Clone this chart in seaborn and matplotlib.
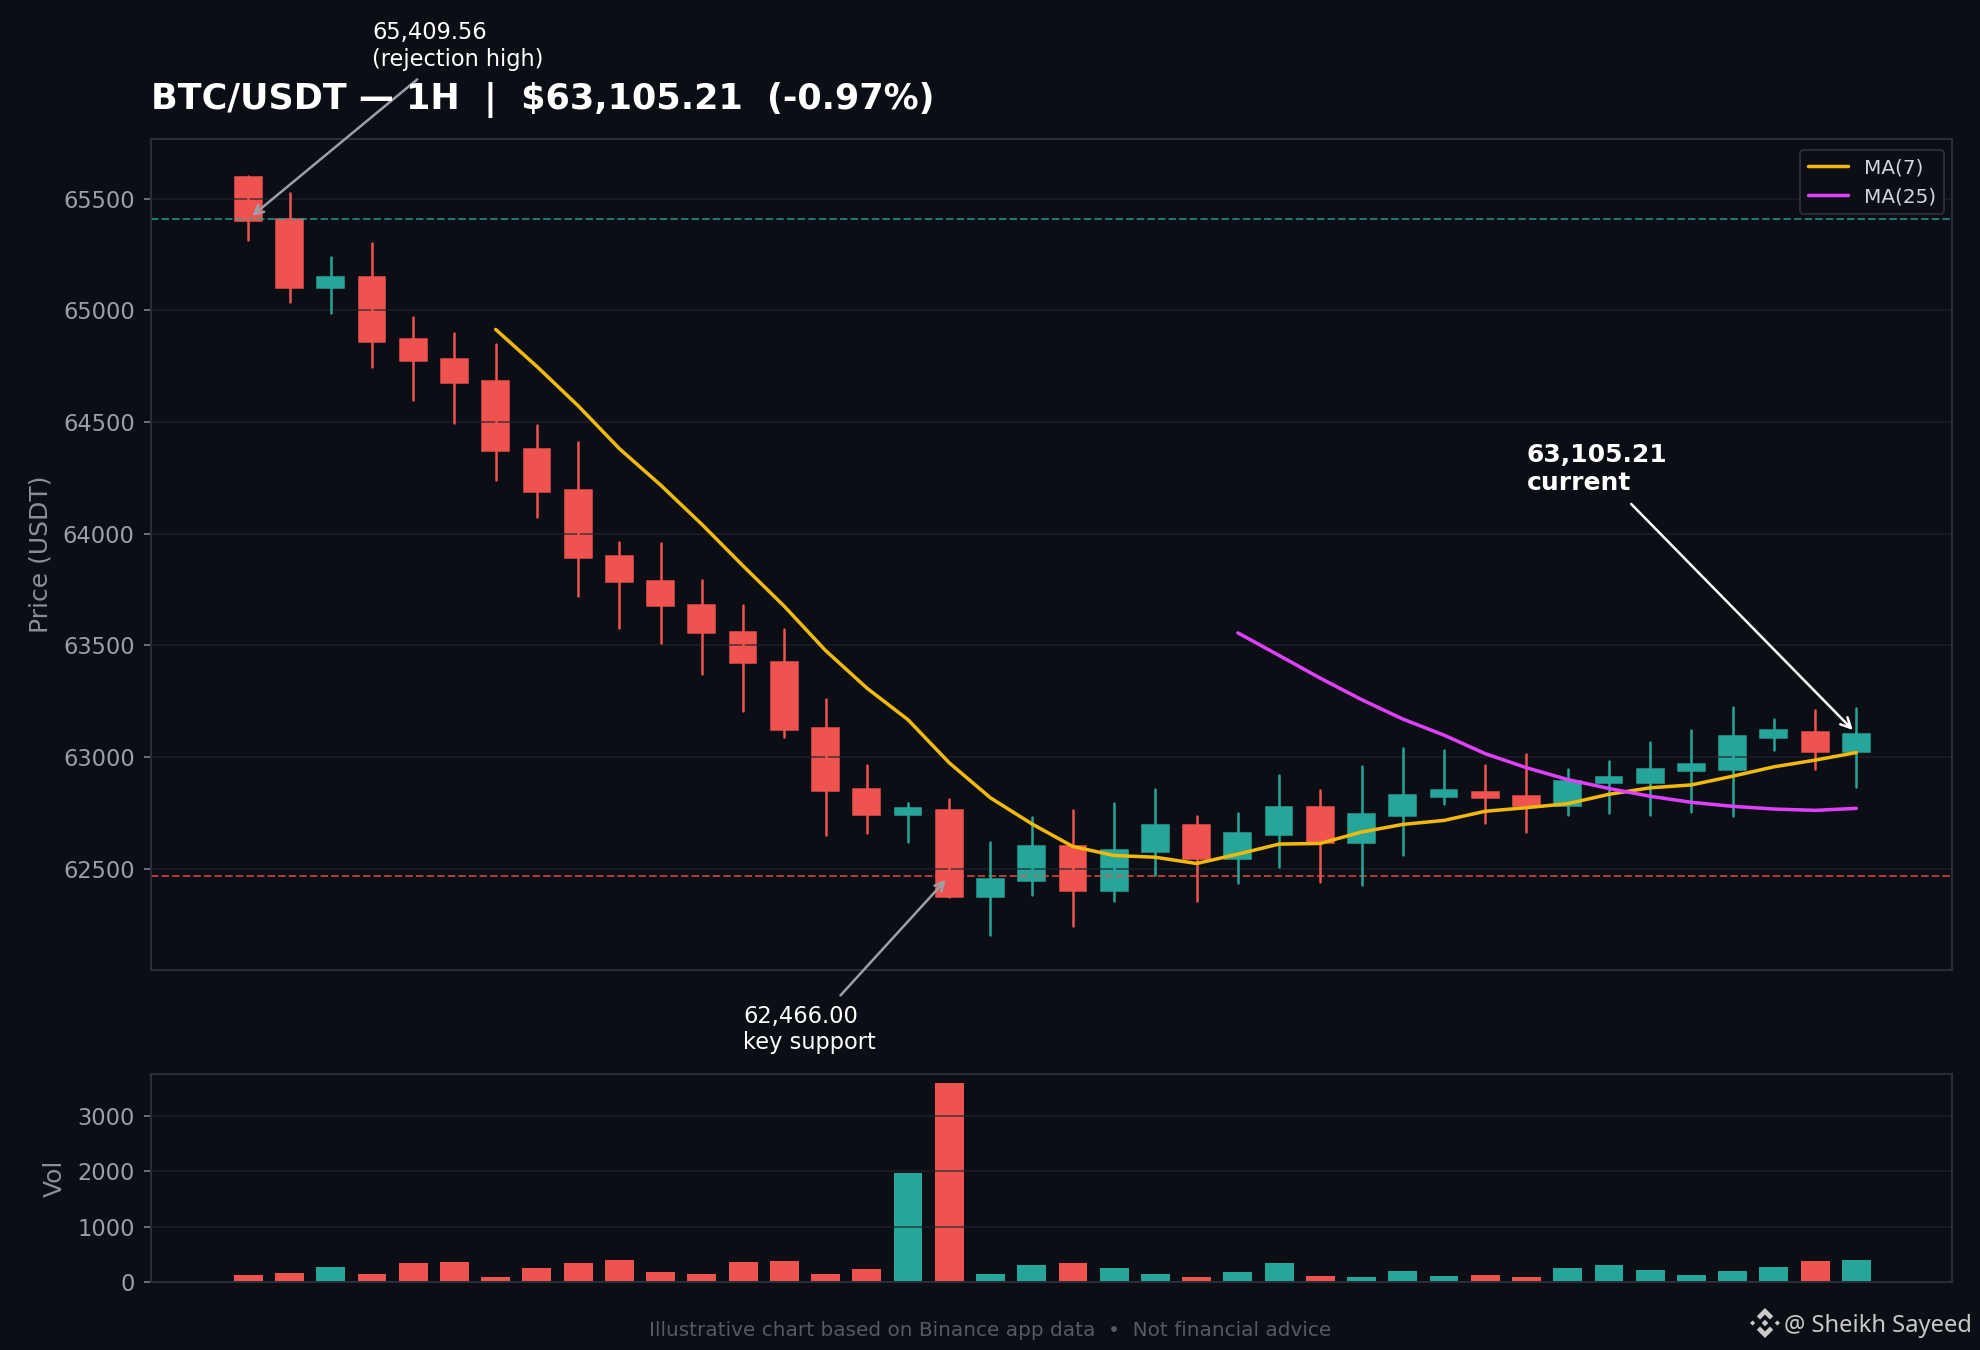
import matplotlib
matplotlib.use("Agg")
import matplotlib.pyplot as plt
from matplotlib.patches import Polygon
import numpy as np
import seaborn as sns

BG = "#0b0e14"
UP = "#26a69a"
DOWN = "#ef5350"
GRID = "#20232a"
SPINE = "#2a2e39"
TXT = "#9aa0a6"

opens = [65600, 65409.56, 65100, 65148, 64870, 64784, 64686, 64379, 64196, 63900,
         63788, 63680, 63562, 63427, 63128, 62857, 62740, 62763, 62371, 62443,
         62601, 62402, 62574, 62695, 62542, 62650, 62776, 62614, 62736, 62821,
         62844, 62826, 62781, 62883, 62883, 62938, 62943, 63087, 63110, 63024]
closes = [65400, 65099, 65148, 64861, 64775, 64677, 64371, 64187, 63890, 63782,
          63675, 63557, 63421, 63121, 62848, 62740, 62772, 62371, 62452, 62601,
          62402, 62583, 62695, 62542, 62659, 62776, 62614, 62745, 62830, 62853,
          62817, 62781, 62893, 62911, 62947, 62970, 63095, 63119, 63024, 63105.21]
highs = [65602, 65525, 65241, 65301, 64972, 64901, 64852, 64488, 64410, 63963,
         63958, 63794, 63680, 63573, 63258, 62965, 62794, 62812, 62619, 62731,
         62763, 62794, 62857, 62736, 62749, 62920, 62853, 62961, 63042, 63033,
         62965, 63015, 62947, 62983, 63069, 63123, 63222, 63168, 63209, 63218]
lows = [65314, 65039, 64990, 64747, 64597, 64495, 64241, 64076, 63720, 63579,
        63511, 63370, 63206, 63088, 62650, 62659, 62619, 62371, 62204, 62384,
        62245, 62356, 62473, 62356, 62434, 62506, 62441, 62425, 62560, 62788,
        62704, 62664, 62740, 62749, 62740, 62754, 62736, 63033, 62947, 62866]
volumes = [120, 157, 265, 139, 338, 356, 84, 247, 338, 392,
           175, 139, 356, 374, 139, 229, 1973, 3590, 139, 308,
           344, 253, 145, 90, 181, 344, 109, 90, 199, 109,
           127, 90, 253, 308, 217, 127, 199, 272, 380, 398]
ma7 = [64915, 64749, 64573, 64381, 64218, 64042, 63856, 63675, 63477, 63309,
       63167, 62974, 62817, 62701, 62599, 62559, 62551, 62523, 62565, 62610,
       62613, 62664, 62698, 62716, 62757, 62773, 62791, 62833, 62862, 62875,
       62914, 62956, 62986, 63020]
ma25 = [63556, 63455, 63353, 63257, 63170, 63098, 63015, 62952, 62899, 62859,
        62824, 62797, 62779, 62767, 62761, 62770]

RESIST = 65409.56
SUPPORT = 62466.00
LAST = 63105.21

sns.set_theme(style="dark", rc={
    "figure.facecolor": BG, "axes.facecolor": BG, "axes.edgecolor": SPINE,
    "axes.linewidth": 0.8, "axes.axisbelow": "line", "grid.color": GRID,
    "grid.linewidth": 0.6, "grid.alpha": 0.8, "axes.grid": True,
    "xtick.bottom": False, "ytick.left": True, "ytick.color": TXT,
    "ytick.labelsize": 9, "axes.labelcolor": "#8a8f98", "axes.labelsize": 10,
})
plt.rcParams["font.family"] = ["DejaVu Sans"]

W, H = 1980, 1350
fig = plt.figure(figsize=(W / 180, H / 180), dpi=180)
ax = fig.add_axes([151 / W, 1 - 970 / H, (1952 - 151) / W, (970 - 139) / H])
vol_ax = fig.add_axes([151 / W, 1 - 1282 / H, (1952 - 151) / W, (1282 - 1074) / H])

idx = np.arange(len(closes))
o, c = np.array(opens), np.array(closes)
colors = [UP if b >= a else DOWN for a, b in zip(opens, closes)]

# bodies stay under the grid, wicks go on top of it
ax.bar(idx, np.abs(c - o), bottom=np.minimum(o, c), width=0.65,
       color=colors, edgecolor=colors, linewidth=0.6, zorder=1)
for i in idx:
    ax.plot([i, i], [lows[i], highs[i]], color=colors[i], lw=1.0, zorder=2)

sns.lineplot(x=idx[6:], y=ma7, ax=ax, color="#f0b90b", lw=1.4, label="MA(7)", zorder=3)
sns.lineplot(x=idx[24:], y=ma25, ax=ax, color="#e040fb", lw=1.4, label="MA(25)", zorder=3)

ax.axhline(RESIST, color=UP, lw=0.8, ls="--", alpha=0.7, zorder=1.8)
ax.axhline(SUPPORT, color=DOWN, lw=0.8, ls="--", alpha=0.7, zorder=1.8)

ax.set_xlim(-2.36, 41.32)
ax.set_ylim(62046, 65768)
ax.set_yticks([62500, 63000, 63500, 64000, 64500, 65000, 65500])
ax.set_xticks([])
ax.set_ylabel("Price (USDT)")
ax.tick_params(axis="y", color="#787b86", length=3, width=0.7, labelcolor=TXT)
ax.set_title("BTC/USDT — 1H  |  $63,105.21  (-0.97%)", loc="left", color="white",
             fontsize=14, fontweight="bold", pad=12)
leg = ax.legend(loc="upper right", bbox_to_anchor=(1.0005, 0.997), fontsize=8,
                facecolor=BG, edgecolor=SPINE, labelcolor="#d1d4dc", framealpha=1,
                borderaxespad=0.45)
leg.get_frame().set_linewidth(0.8)

ax.annotate("65,409.56\n(rejection high)", xy=(0, RESIST), xytext=(3.0, 66185),
            color="white", fontsize=9, va="center", ha="left",
            arrowprops=dict(arrowstyle="->", color=TXT, lw=1.0))
ax.annotate("62,466.00\nkey support", xy=(17, SUPPORT), xytext=(12.0, 61780),
            color="white", fontsize=9, va="center", ha="left",
            arrowprops=dict(arrowstyle="->", color=TXT, lw=1.0))
ax.annotate("63,105.21\ncurrent", xy=(39, LAST), xytext=(31.0, 64290),
            color="white", fontsize=10, fontweight="bold", va="center", ha="left",
            arrowprops=dict(arrowstyle="->", color="white", lw=1.0))

sns.barplot(x=idx, y=volumes, hue=colors, palette={UP: UP, DOWN: DOWN}, ax=vol_ax,
            native_scale=True, dodge=False, legend=False, width=0.7, saturation=1,
            zorder=1, linewidth=0, edgecolor="none")
vol_ax.set_xlim(-2.36, 41.32)
vol_ax.set_ylim(0, 3760)
vol_ax.set_xticks([])
vol_ax.set_yticks([0, 1000, 2000, 3000])
vol_ax.set_ylabel("Vol")
vol_ax.tick_params(axis="y", color="#787b86", length=3, width=0.7, labelcolor=TXT)
vol_ax.set_xlabel("")

fig.text(0.5, 1 - 1330 / H, "Illustrative chart based on Binance app data  •  Not financial advice",
         color="#555a63", fontsize=8, ha="center", va="center")
fig.text(1784 / W, 1 - 1326 / H, "@ Sheikh Sayeed", color="#c9c9c9", fontsize=9.5,
         family="Noto Sans", ha="left", va="center")

# little binance logo next to the watermark
logo = fig.add_axes([1750 / W, 1 - 1338 / H, 30 / W, 30 / H])
logo.set_xlim(-1, 1)
logo.set_ylim(-1, 1)
logo.axis("off")
for shape in ([(0, .22), (.22, 0), (0, -.22), (-.22, 0)],
              [(-.82, .17), (-.65, 0), (-.82, -.17), (-1, 0)],
              [(.82, .17), (1, 0), (.82, -.17), (.65, 0)],
              [(0, 1), (.55, .45), (.33, .23), (0, .56), (-.33, .23), (-.55, .45)],
              [(0, -1), (.55, -.45), (.33, -.23), (0, -.56), (-.33, -.23), (-.55, -.45)]):
    logo.add_patch(Polygon(shape, color="#c9c9c9", lw=0))

fig.savefig("out.png", dpi=180, facecolor=BG)
